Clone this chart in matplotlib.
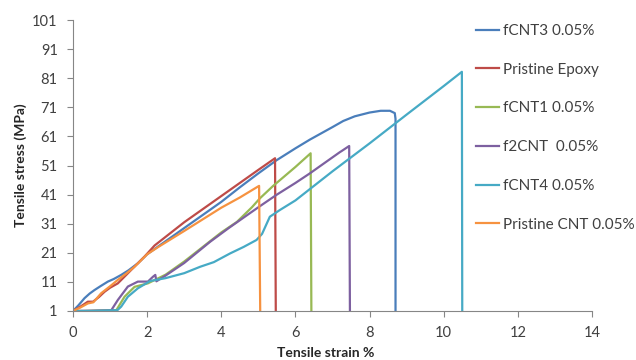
import matplotlib
matplotlib.use("Agg")
import matplotlib.pyplot as plt

plt.rcParams['font.family'] = ['Lato', 'DejaVu Sans']

labels = ["fCNT3 0.05%", "Pristine Epoxy", "fCNT1 0.05%", "f2CNT  0.05%", "fCNT4 0.05%", "Pristine CNT 0.05%"]
colors = ["#4A7EBB", "#BE4B48", "#98B954", "#7D60A0", "#46AAC5", "#F69240"]

fcnt3_x = [0, 0.15, 0.31, 0.45, 0.58, 0.75, 0.94, 1.1, 1.3, 1.5, 1.75, 2.0, 2.5, 3.0, 3.5, 4.0, 4.5, 5.0, 5.49, 6.0, 6.39, 7.0, 7.29, 7.6, 8.0, 8.3, 8.55, 8.68, 8.7, 8.7]
fcnt3_y = [1, 3, 5.4, 7, 8.2, 9.6, 11.1, 12, 13.4, 15, 17.4, 20.5, 25, 29.5, 34, 38.5, 43.5, 48.3, 52.8, 56.9, 59.9, 64.2, 66.3, 67.9, 69.2, 69.8, 69.8, 69, 67, 1]

epoxy_x = [0, 0.2, 0.4, 0.54, 0.7, 0.85, 1.0, 1.21, 1.39, 1.6, 1.93, 2.2, 2.5, 3.0, 3.5, 4.0, 4.5, 5.0, 5.45, 5.47]
epoxy_y = [1, 2.5, 4.2, 4.2, 5.8, 7.6, 9, 10.5, 12.8, 15.5, 19.7, 23.5, 26.5, 31.5, 36, 40.5, 45, 49.5, 53.5, 1]

fcnt1_x = [0, 0.3, 0.8, 1.17, 1.39, 1.66, 2.02, 2.5, 3.0, 3.5, 4.0, 4.42, 4.83, 5.04, 5.4, 6.0, 6.41, 6.43]
fcnt1_y = [1, 1, 1.2, 1.3, 5.9, 9.3, 10.5, 13.5, 18, 23, 28, 31.6, 36.7, 39.7, 44, 50.5, 55.2, 1]

f2cnt_x = [0, 0.5, 1.03, 1.21, 1.48, 1.75, 2.02, 2.16, 2.22, 2.25, 2.5, 3.0, 3.7, 4.2, 4.77, 5.04, 5.5, 6.0, 6.39, 6.8, 7.2, 7.25, 7.45, 7.47]
f2cnt_y = [1, 1.1, 1.2, 4.8, 9.4, 11.1, 11.1, 12.8, 13.4, 11.2, 13.2, 17.5, 24.8, 29.5, 34.6, 37, 41, 45, 48.3, 52, 55.6, 56, 57.7, 1]

fcnt4_x = [0, 0.5, 1.0, 1.2, 1.3, 1.48, 1.75, 2.08, 2.5, 3.0, 3.43, 3.8, 4.24, 4.6, 4.95, 5.1, 5.31, 5.58, 6.0, 7.0, 8.0, 9.0, 10.0, 10.49, 10.5]
fcnt4_y = [1, 1, 1.2, 1.3, 2.5, 5.9, 8.8, 11.3, 12.3, 14, 16.2, 17.8, 20.8, 23, 25.4, 27.5, 33.4, 35.7, 39, 49, 58.6, 68.5, 78.3, 83.2, 1]

pcnt_x = [0, 0.2, 0.4, 0.55, 0.76, 1.0, 1.21, 1.45, 1.66, 2.0, 2.3, 3.0, 3.5, 4.0, 4.5, 5.02, 5.05]
pcnt_y = [1, 2.2, 3.6, 4, 7.1, 9.5, 11.7, 14, 16.2, 20.5, 23, 28.5, 32.5, 36.5, 40, 44, 1]

series = [(fcnt3_x, fcnt3_y), (epoxy_x, epoxy_y), (fcnt1_x, fcnt1_y),
          (f2cnt_x, f2cnt_y), (fcnt4_x, fcnt4_y), (pcnt_x, pcnt_y)]

x_ticks = [0, 2, 4, 6, 8, 10, 12, 14]
y_ticks = [1, 11, 21, 31, 41, 51, 61, 71, 81, 91, 101]

fig = plt.figure(figsize=(6.36, 3.6), dpi=100)
ax = fig.add_axes([73/636, 49/360, (592-73)/636, (311-20)/360])

for (xs, ys), lab, c in zip(series, labels, colors):
    ax.plot(xs, ys, color=c, lw=1.6, label=lab, solid_joinstyle='round')

ax.set_xlim(0, 14)
ax.set_ylim(1, 101)
ax.set_xticks(x_ticks)
ax.set_yticks(y_ticks)
for s in ['top', 'right']:
    ax.spines[s].set_visible(False)
for s in ['left', 'bottom']:
    ax.spines[s].set_color('#868686')
    ax.spines[s].set_linewidth(0.8)
ax.tick_params(axis='both', colors='#868686', labelcolor='#404040', labelsize=10.5,
               length=4, width=0.8, pad=7)

ax.set_xlabel('Tensile strain %', fontsize=10, fontweight='bold', color='#262626')
ax.set_ylabel('Tensile stress (MPa)', fontsize=10, fontweight='bold', color='#262626')
ax.xaxis.set_label_coords((326-73)/519, -(347-311)/291)
ax.yaxis.set_label_coords(-(73-27)/519, (311-165)/291)

leg = ax.legend(loc='upper left', bbox_to_anchor=(476/636, 1 - 24/360), bbox_transform=fig.transFigure,
                frameon=False, fontsize=11, handlelength=1.5, handletextpad=0.26,
                labelspacing=1.62, borderpad=0, borderaxespad=0)
for t in leg.get_texts():
    t.set_color('#404040')

fig.savefig('out.png', dpi=100)
